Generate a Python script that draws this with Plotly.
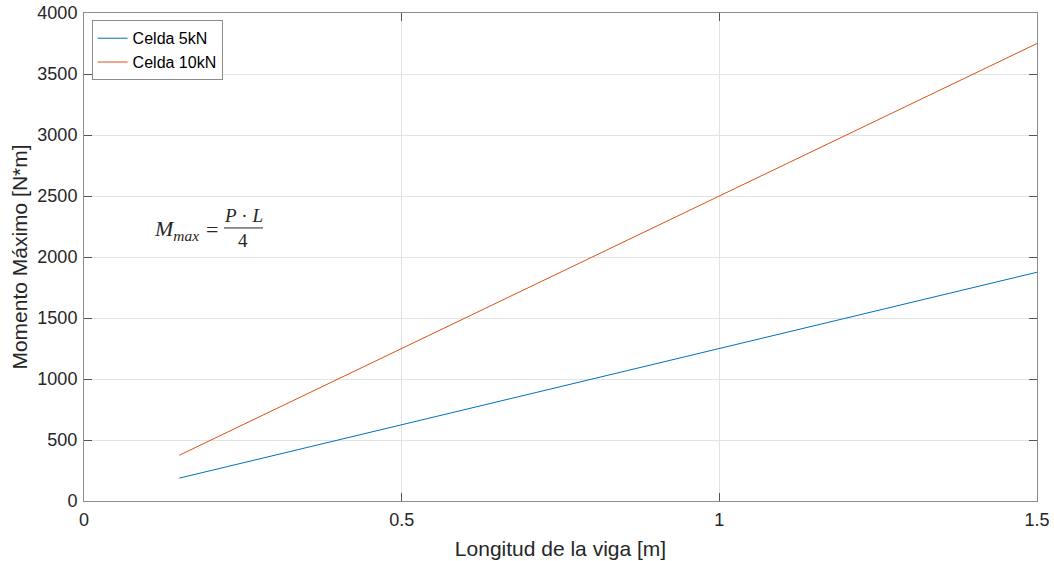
import plotly.graph_objects as go

longitud = [0.15, 1.5]
celda_5kN = [187.5, 1875]
celda_10kN = [375, 3750]
x_ticks = [0, 0.5, 1, 1.5]
x_tick_labels = ["0", "0.5", "1", "1.5"]
y_ticks = [0, 500, 1000, 1500, 2000, 2500, 3000, 3500, 4000]

fig = go.Figure()
fig.add_trace(go.Scatter(x=longitud, y=celda_5kN, mode="lines", name="Celda 5kN",
                         line=dict(color="#0072BD", width=1)))
fig.add_trace(go.Scatter(x=longitud, y=celda_10kN, mode="lines", name="Celda 10kN",
                         line=dict(color="#D95319", width=1)))

axis_common = dict(showgrid=True, gridcolor="#e3e3e3", gridwidth=1, zeroline=False,
                   showline=True, linecolor="#8c8c8c", linewidth=1, mirror="ticks",
                   ticks="inside", ticklen=8, tickcolor="#555555", automargin=False,
                   tickfont=dict(family="Liberation Sans, Arial", size=18, color="#262626"))

fig.update_xaxes(range=[0, 1.5], tickvals=x_ticks, ticktext=x_tick_labels,
                 ticklabelstandoff=2,
                 title=dict(text="Longitud de la viga [m]", standoff=12,
                            font=dict(family="Liberation Sans, Arial", size=21, color="#262626")),
                 **axis_common)
fig.update_yaxes(range=[0, 4000], tickvals=y_ticks, ticklabelstandoff=2,
                 title=dict(text="Momento Máximo [N*m]", standoff=4,
                            font=dict(family="Liberation Sans, Arial", size=21, color="#262626")),
                 **axis_common)

serif = dict(family="Liberation Serif, DejaVu Serif", size=19, color="#262626")
serif_big = dict(family="Liberation Serif, DejaVu Serif", size=22, color="#262626")
bar_y = 2238
fig.add_annotation(x=0.1845, y=bar_y, text="<i>M<sub>max</sub></i>", showarrow=False,
                   xanchor="right", yanchor="middle", yshift=-2, font=serif_big)
fig.add_annotation(x=0.2135, y=bar_y, text="=", showarrow=False,
                   xanchor="right", yanchor="middle", yshift=-2, font=serif_big)
fig.add_annotation(x=0.251, y=bar_y, text="<i>P</i> · <i>L</i>", showarrow=False,
                   xanchor="center", yanchor="bottom", yshift=0, font=serif)
fig.add_annotation(x=0.251, y=bar_y, text="4", showarrow=False,
                   xanchor="center", yanchor="top", yshift=0, font=serif)
fig.add_shape(type="line", x0=0.2204, x1=0.2817, y0=bar_y, y1=bar_y,
              line=dict(color="#262626", width=1))

fig.update_layout(
    width=1054, height=561,
    margin=dict(l=84, r=17, t=13, b=60),
    paper_bgcolor="white", plot_bgcolor="white",
    showlegend=True,
    legend=dict(x=0.008, y=0.985, xanchor="left", yanchor="top",
                bgcolor="white", bordercolor="#8c8c8c", borderwidth=1,
                font=dict(family="Liberation Sans, Arial", size=16, color="black"),
                tracegroupgap=0, itemwidth=30),
)

fig.write_html("out.html", config={"displayModeBar": False},
               post_script="document.body.style.margin='0';document.body.style.overflow='hidden';")
